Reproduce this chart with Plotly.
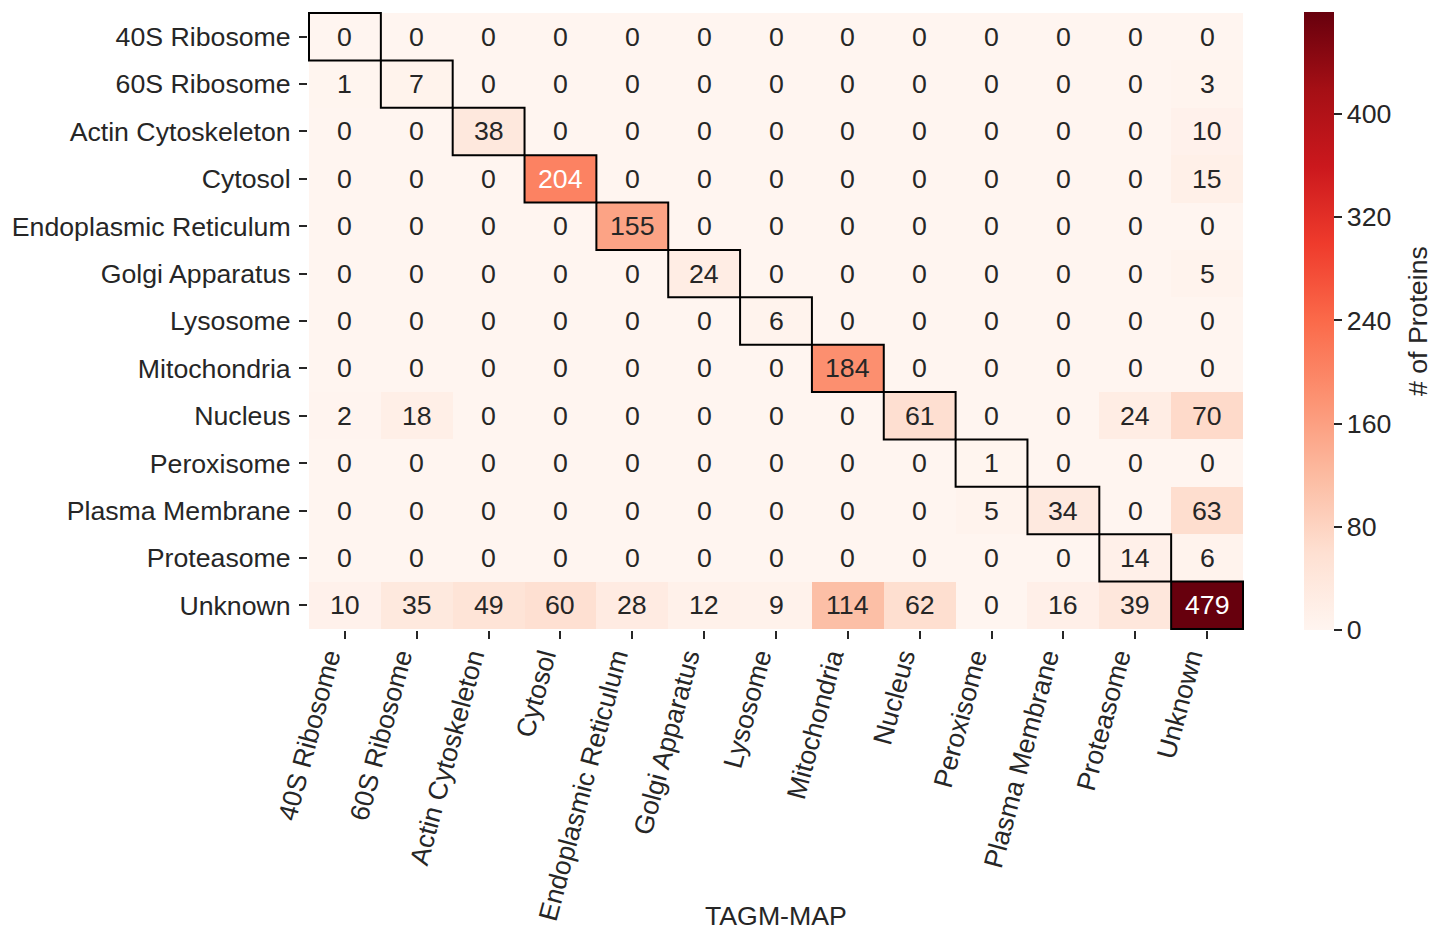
import plotly.graph_objects as go

categories = ["40S Ribosome", "60S Ribosome", "Actin Cytoskeleton", "Cytosol",
              "Endoplasmic Reticulum", "Golgi Apparatus", "Lysosome", "Mitochondria",
              "Nucleus", "Peroxisome", "Plasma Membrane", "Proteasome", "Unknown"]

row_40s = [0, 0, 0, 0, 0, 0, 0, 0, 0, 0, 0, 0, 0]
row_60s = [1, 7, 0, 0, 0, 0, 0, 0, 0, 0, 0, 0, 3]
row_actin = [0, 0, 38, 0, 0, 0, 0, 0, 0, 0, 0, 0, 10]
row_cytosol = [0, 0, 0, 204, 0, 0, 0, 0, 0, 0, 0, 0, 15]
row_er = [0, 0, 0, 0, 155, 0, 0, 0, 0, 0, 0, 0, 0]
row_golgi = [0, 0, 0, 0, 0, 24, 0, 0, 0, 0, 0, 0, 5]
row_lysosome = [0, 0, 0, 0, 0, 0, 6, 0, 0, 0, 0, 0, 0]
row_mito = [0, 0, 0, 0, 0, 0, 0, 184, 0, 0, 0, 0, 0]
row_nucleus = [2, 18, 0, 0, 0, 0, 0, 0, 61, 0, 0, 24, 70]
row_perox = [0, 0, 0, 0, 0, 0, 0, 0, 0, 1, 0, 0, 0]
row_pm = [0, 0, 0, 0, 0, 0, 0, 0, 0, 5, 34, 0, 63]
row_proteasome = [0, 0, 0, 0, 0, 0, 0, 0, 0, 0, 0, 14, 6]
row_unknown = [10, 35, 49, 60, 28, 12, 9, 114, 62, 0, 16, 39, 479]

z = [row_40s, row_60s, row_actin, row_cytosol, row_er, row_golgi, row_lysosome,
     row_mito, row_nucleus, row_perox, row_pm, row_proteasome, row_unknown]

colorbar_ticks = [0, 80, 160, 240, 320, 400]
colorbar_title = "# of Proteins"
x_title = "TAGM-MAP"

reds = ["#fff5f0", "#fee0d2", "#fcbba1", "#fc9272", "#fb6a4a",
        "#ef3b2c", "#cb181d", "#a50f15", "#67000d"]

zmax = max(max(r) for r in z)
zmin = 0

FONT = "Liberation Sans, Arial, sans-serif"
FS = 26.7
TXT = "#262626"

W, H = 1428, 925
L, T = 300, 4
PW, PH = 936, 618
R, B = W - L - PW, H - T - PH


def hex2rgb(h):
    h = h.lstrip("#")
    return [int(h[i:i + 2], 16) / 255 for i in (0, 2, 4)]


def color_at(v):
    t = (v - zmin) / (zmax - zmin)
    t = min(max(t, 0), 1) * (len(reds) - 1)
    i = min(int(t), len(reds) - 2)
    f = t - i
    a, b = hex2rgb(reds[i]), hex2rgb(reds[i + 1])
    return [a[k] + (b[k] - a[k]) * f for k in range(3)]


def lum(rgb):
    out = []
    for c in rgb:
        out.append(c / 12.92 if c <= 0.03928 else ((c + 0.055) / 1.055) ** 2.4)
    return 0.2126 * out[0] + 0.7152 * out[1] + 0.0722 * out[2]


fig = go.Figure()
fig.add_trace(go.Heatmap(
    z=z, x=categories, y=categories,
    colorscale=[[i / (len(reds) - 1), c] for i, c in enumerate(reds)],
    zmin=zmin, zmax=zmax,
    colorbar=dict(
        thickness=30, len=1, lenmode="fraction", y=0.5, yanchor="middle",
        x=(1296 - L) / PW, xanchor="left", xpad=0, ypad=0,
        outlinewidth=0, tickvals=colorbar_ticks, ticks="outside", ticklen=8,
        tickwidth=1.5, tickcolor=TXT,
        tickfont=dict(family=FONT, size=FS, color=TXT),
    ),
    hoverongaps=False,
))

for i, row in enumerate(z):
    for j, v in enumerate(row):
        col = TXT if lum(color_at(v)) > 0.408 else "white"
        fig.add_annotation(x=categories[j], y=categories[i], text=str(v),
                           showarrow=False, font=dict(family=FONT, size=FS, color=col))

for k in range(len(categories)):
    fig.add_shape(type="rect", xref="x", yref="y",
                  x0=k - 0.5, x1=k + 0.5, y0=k - 0.5, y1=k + 0.5,
                  line=dict(color="black", width=2))

fig.add_annotation(xref="paper", yref="paper", x=0.5, y=-(908 - 622) / PH,
                   text=x_title, showarrow=False, xanchor="center", yanchor="middle",
                   font=dict(family=FONT, size=FS, color=TXT))

fig.add_annotation(xref="paper", yref="paper", x=(1410 - L) / PW, y=0.5,
                   text=colorbar_title, showarrow=False, textangle=-90,
                   xanchor="center", yanchor="middle",
                   font=dict(family=FONT, size=FS, color=TXT))

fig.update_xaxes(tickangle=-75, ticks="outside", ticklen=8, tickwidth=1.5,
                 tickcolor=TXT, showgrid=False, zeroline=False, showline=False,
                 ticklabelstandoff=-8, ticklabelshift=-17,
                 tickfont=dict(family=FONT, size=FS, color=TXT))
fig.update_yaxes(autorange="reversed", ticks="outside", ticklen=8, tickwidth=1.5,
                 tickcolor=TXT, showgrid=False, zeroline=False, showline=False,
                 ticklabelstandoff=3,
                 tickfont=dict(family=FONT, size=FS, color=TXT))

fig.update_layout(
    width=W, height=H,
    margin=dict(l=L, r=R, t=T, b=B, autoexpand=False),
    paper_bgcolor="white", plot_bgcolor="white",
    font=dict(family=FONT, size=FS, color=TXT),
)

fig.write_html("out.html")
